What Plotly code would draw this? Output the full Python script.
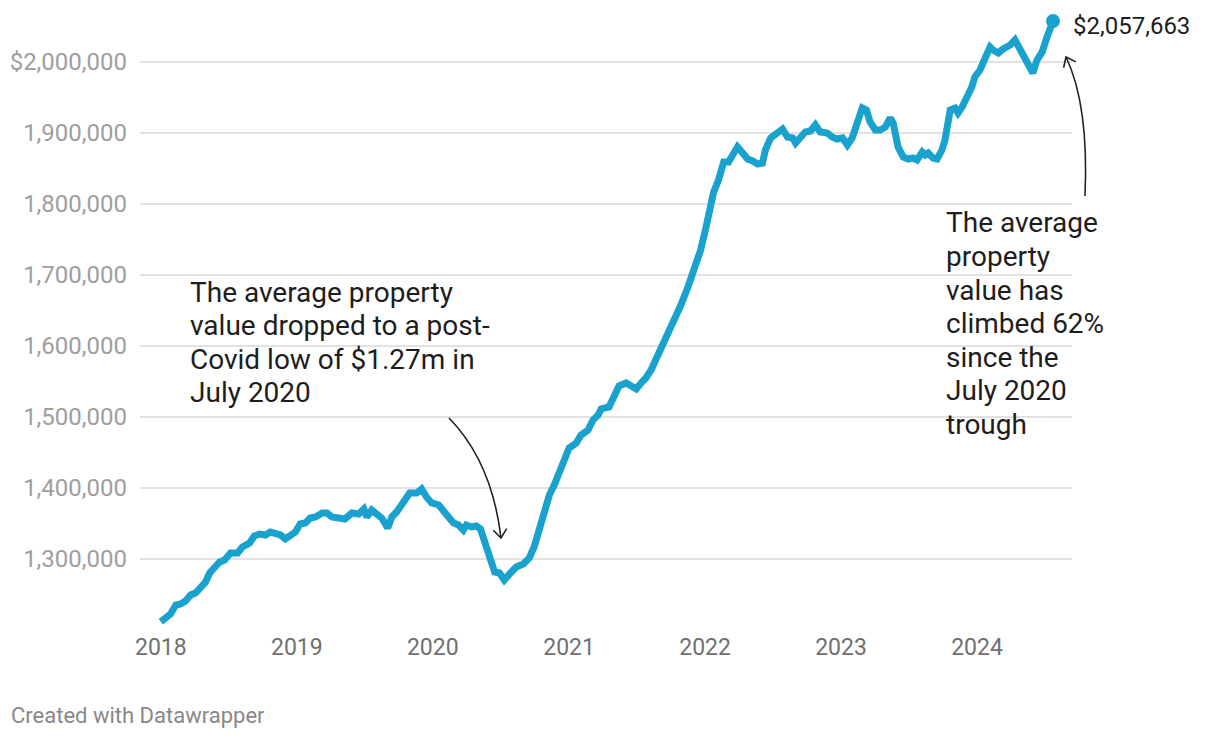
import math
import plotly.graph_objects as go

# ---- data ----
dates = [
    "2018-01-01", "2018-01-14", "2018-01-27", "2018-02-10", "2018-02-23", "2018-03-08", "2018-03-22",
    "2018-04-04", "2018-04-18", "2018-05-01", "2018-05-12", "2018-05-25", "2018-06-08", "2018-06-21",
    "2018-07-07", "2018-07-26", "2018-08-08", "2018-08-27", "2018-09-09", "2018-09-23", "2018-10-09",
    "2018-10-22", "2018-11-05", "2018-11-18", "2018-12-01", "2018-12-15", "2018-12-28",
    "2019-01-10", "2019-01-24", "2019-02-06", "2019-02-20", "2019-03-10", "2019-03-23", "2019-04-05",
    "2019-04-24", "2019-05-10", "2019-05-29", "2019-06-16", "2019-06-30", "2019-07-08", "2019-07-21",
    "2019-08-03", "2019-08-17", "2019-09-02", "2019-09-13", "2019-09-26", "2019-10-15", "2019-10-31",
    "2019-11-19", "2019-12-02", "2019-12-15", "2019-12-29",
    "2020-01-17", "2020-01-30", "2020-02-12", "2020-02-26", "2020-03-10", "2020-03-23", "2020-03-31",
    "2020-04-14", "2020-04-27", "2020-05-08", "2020-05-19", "2020-06-01", "2020-06-15", "2020-06-28",
    "2020-07-11", "2020-07-30", "2020-08-12", "2020-08-31", "2020-09-16", "2020-09-29", "2020-10-13",
    "2020-10-26", "2020-11-09", "2020-11-22", "2020-12-05", "2020-12-19",
    "2021-01-01", "2021-01-20", "2021-02-02", "2021-02-21", "2021-03-06", "2021-03-20", "2021-03-28",
    "2021-04-18", "2021-05-02", "2021-05-15", "2021-06-03", "2021-06-16", "2021-06-30", "2021-07-13",
    "2021-07-26", "2021-08-09", "2021-08-22", "2021-09-04", "2021-09-23", "2021-10-09", "2021-10-28",
    "2021-11-16", "2021-11-29", "2021-12-12", "2021-12-20",
    "2022-01-03", "2022-01-16", "2022-01-24", "2022-02-06", "2022-02-20", "2022-03-05", "2022-03-19",
    "2022-03-29", "2022-04-12", "2022-04-25", "2022-05-09", "2022-05-22", "2022-06-04", "2022-06-12",
    "2022-06-26", "2022-07-14", "2022-07-28", "2022-08-10", "2022-08-24", "2022-09-01", "2022-09-14",
    "2022-09-27", "2022-10-11", "2022-10-24", "2022-11-06", "2022-11-25", "2022-12-08", "2022-12-21",
    "2023-01-05", "2023-01-18", "2023-01-31", "2023-02-14", "2023-02-27", "2023-03-10", "2023-03-20",
    "2023-04-03", "2023-04-16", "2023-04-30", "2023-05-13", "2023-05-21", "2023-06-03", "2023-06-17",
    "2023-06-30", "2023-07-13", "2023-07-24", "2023-08-07", "2023-08-15", "2023-08-23", "2023-09-05",
    "2023-09-16", "2023-09-29", "2023-10-07", "2023-10-21", "2023-11-03", "2023-11-11", "2023-11-22",
    "2023-12-05", "2023-12-18", "2023-12-26",
    "2024-01-09", "2024-01-23", "2024-02-05", "2024-02-13", "2024-02-27", "2024-03-11", "2024-03-30",
    "2024-04-12", "2024-04-26", "2024-05-09", "2024-05-22", "2024-05-30", "2024-06-10", "2024-06-24",
    "2024-07-07", "2024-07-23",
]

values = [
    1211700, 1218300, 1222500, 1235200, 1236600, 1240800, 1249300, 1252100, 1262000, 1267600,
    1280300, 1287300, 1295800, 1298600, 1308500, 1308500, 1316900, 1322500, 1332400, 1335200,
    1333800, 1338000, 1336600, 1333800, 1328200, 1333800, 1338000,
    1349300, 1350700, 1357700, 1359200, 1364800, 1364800, 1359200, 1356300, 1356300, 1364800,
    1363400, 1370400, 1359200, 1369000, 1362000, 1357700, 1343700, 1359200, 1366200, 1378900,
    1393000, 1393000, 1398600, 1387300, 1378900,
    1376100, 1366200, 1359200, 1350700, 1347900, 1340800, 1347900, 1345100, 1346500, 1342300,
    1322500, 1302800, 1281700, 1280300, 1270400, 1281700, 1288700, 1293000, 1301400, 1316900,
    1340800, 1369000, 1390100, 1404200, 1421100, 1439400,
    1456300, 1463400, 1474600, 1481700, 1495800, 1502800, 1511300, 1514100, 1528200, 1543700,
    1547900, 1543700, 1539400, 1547900, 1554900, 1566200, 1580300, 1597200, 1618300, 1636600,
    1657700, 1683100, 1702800, 1721100, 1735200,
    1766200, 1795800, 1816900, 1833800, 1859200, 1859200, 1873200, 1880300, 1871800, 1863400,
    1860600, 1856300, 1857700, 1876100, 1893000, 1901400, 1905600, 1894400, 1893000, 1885900,
    1893000, 1901400, 1902800, 1911300, 1901400, 1900000, 1894400, 1891500,
    1893000, 1883100, 1893000, 1918300, 1935200, 1932400, 1915500, 1904200, 1904200, 1908500,
    1921100, 1914100, 1880300, 1866200, 1863400, 1864800, 1862000, 1873200, 1869000, 1871800,
    1864800, 1863400, 1876100, 1890100, 1932400, 1935200, 1928200, 1936600, 1949300, 1964800,
    1978900,
    1988700, 2005600, 2021100, 2016900, 2012700, 2018300, 2023900, 2031000, 2016900, 2002800,
    1988700, 1984500, 2002800, 2014100, 2035200, 2057663,
]

y_tickvals = [1300000, 1400000, 1500000, 1600000, 1700000, 1800000, 1900000, 2000000]
y_ticktext = ["1,300,000", "1,400,000", "1,500,000", "1,600,000", "1,700,000",
              "1,800,000", "1,900,000", "$2,000,000"]
x_tickvals = ["2018-01-01", "2019-01-01", "2020-01-01", "2021-01-01",
              "2022-01-01", "2023-01-01", "2024-01-01"]
x_ticktext = ["2018", "2019", "2020", "2021", "2022", "2023", "2024"]

end_label = "$2,057,663"
note_left = ["The average property", "value dropped to a post-",
             "Covid low of $1.27m in", "July 2020"]
note_right = ["The average", "property", "value has", "climbed 62%",
              "since the", "July 2020", "trough"]
credit = "Created with Datawrapper"

# ---- layout geometry ----
W, H = 1220, 738
ML, MR, MT, MB = 140, 148, 10, 108
PW, PH = W - ML - MR, H - MT - MB

BLUE = "#1aa2cf"
FONT = "Roboto"
TEXT = "#1d1d1d"


def P(px, py):
    return ((px - ML) / PW, (H - MB - py) / PH)


fig = go.Figure()
fig.add_trace(go.Scatter(
    x=dates, y=values, mode="lines",
    line=dict(color=BLUE, width=7),
    hoverinfo="skip", showlegend=False,
))
fig.add_trace(go.Scatter(
    x=[dates[-1]], y=[values[-1]], mode="markers",
    marker=dict(color=BLUE, size=14),
    hoverinfo="skip", showlegend=False, cliponaxis=False,
))

shapes = []


def curved_arrow(p0, c, p1, head=11, ang=38):
    x0, y0 = P(*p0)
    cx, cy = P(*c)
    x1, y1 = P(*p1)
    shapes.append(dict(type="path", xref="paper", yref="paper",
                       path=f"M {x0},{y0} Q {cx},{cy} {x1},{y1}",
                       line=dict(color="#222222", width=1.6)))
    dx, dy = p1[0] - c[0], p1[1] - c[1]
    n = math.hypot(dx, dy)
    dx, dy = dx / n, dy / n
    pts = []
    for s in (1, -1):
        a = math.radians(ang * s)
        rx = dx * math.cos(a) - dy * math.sin(a)
        ry = dx * math.sin(a) + dy * math.cos(a)
        pts.append(P(p1[0] - head * rx, p1[1] - head * ry))
    tx, ty = P(*p1)
    shapes.append(dict(type="path", xref="paper", yref="paper",
                       path=f"M {pts[0][0]},{pts[0][1]} L {tx},{ty} L {pts[1][0]},{pts[1][1]}",
                       line=dict(color="#222222", width=1.6)))


curved_arrow((449, 418), (492, 462), (501, 538))
curved_arrow((1085, 196), (1089, 105), (1066, 57))

annotations = []
LINE_GAP = 33.5
for i, line in enumerate(note_left):
    annotations.append(dict(
        text=line, xref="paper", yref="paper", x=P(188, 0)[0], y=P(0, 292 + i * LINE_GAP)[1],
        xanchor="left", yanchor="middle", align="left", showarrow=False,
        font=dict(family=FONT, size=28, color=TEXT)))
for i, line in enumerate(note_right):
    annotations.append(dict(
        text=line, xref="paper", yref="paper", x=P(944, 0)[0], y=P(0, 223 + i * LINE_GAP)[1],
        xanchor="left", yanchor="middle", align="left", showarrow=False,
        font=dict(family=FONT, size=28, color=TEXT)))
annotations += [
    dict(text=end_label, x=dates[-1], y=values[-1], xref="x", yref="y",
         xanchor="left", yanchor="middle", xshift=18, yshift=-5, showarrow=False,
         font=dict(family=FONT, size=24, color=TEXT)),
    dict(text=credit, xref="paper", yref="paper", x=P(9, 0)[0], y=P(0, 715)[1],
         xanchor="left", yanchor="middle", showarrow=False,
         font=dict(family=FONT, size=22, color="#888888")),
]

fig.update_layout(
    width=W, height=H,
    margin=dict(l=ML, r=MR, t=MT, b=MB, pad=0),
    paper_bgcolor="white", plot_bgcolor="white",
    font=dict(family=FONT),
    shapes=shapes,
    annotations=annotations,
    showlegend=False,
    hovermode=False,
    xaxis=dict(
        type="date", range=["2017-11-06", "2024-09-12"],
        tickvals=x_tickvals, ticktext=x_ticktext,
        showgrid=False, zeroline=False, showline=False, ticks="",
        tickfont=dict(family=FONT, size=23, color="#707070"),
        ticklabelstandoff=1, fixedrange=True,
    ),
    yaxis=dict(
        range=[1200000, 2073239],
        tickvals=y_tickvals, ticktext=y_ticktext,
        showgrid=True, gridcolor="#e2e2e2", gridwidth=1.6,
        zeroline=False, showline=False, ticks="",
        tickfont=dict(family=FONT, size=24, color="#9e9e9e"),
        ticklabelstandoff=12, fixedrange=True,
    ),
)

fig.write_html(
    "out.html",
    config={"displayModeBar": False, "staticPlot": True},
    post_script="document.body.style.margin='0px';document.body.style.overflow='hidden';",
)
